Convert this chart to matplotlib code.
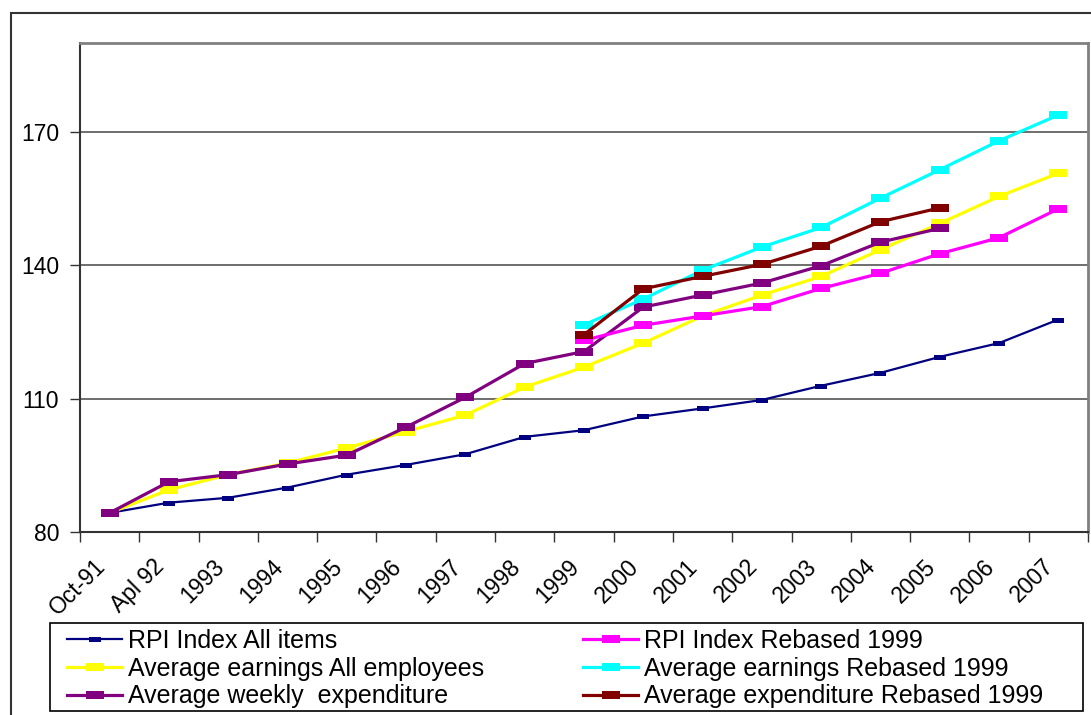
import numpy as np
import matplotlib
matplotlib.use("Agg")
import matplotlib.pyplot as plt
import matplotlib.transforms as mtrans
from matplotlib.patches import Rectangle

plt.rcParams['font.family'] = ['Liberation Sans', 'DejaVu Sans']

nan = np.nan

periods = ['Oct-91', 'Apl 92', '1993', '1994', '1995', '1996', '1997', '1998',
           '1999', '2000', '2001', '2002', '2003', '2004', '2005', '2006', '2007']

rpi_all = [84.3, 86.6, 87.7, 90.0, 92.9, 95.1, 97.5, 101.4, 102.9, 106.0,
           107.8, 109.7, 112.9, 115.8, 119.4, 122.5, 127.8]
rpi_rebased = [nan] * 8 + [123.1, 126.5, 128.6, 130.7, 134.8, 138.2, 142.6,
                           146.2, 152.7]
earn_all = [84.3, 89.5, 92.9, 95.5, 98.9, 102.6, 106.3, 112.6, 117.1, 122.5,
            128.6, 133.3, 137.5, 143.5, 149.4, 155.5, 160.7]
earn_rebased = [nan] * 8 + [126.6, 132.4, 138.9, 144.1, 148.5, 155.1, 161.5,
                            168.0, 173.8]
spend_weekly = [84.3, 91.3, 92.9, 95.3, 97.3, 103.6, 110.3, 117.9, 120.6,
                130.6, 133.3, 136.0, 139.9, 145.2, 148.3, nan, nan]
spend_rebased = [nan] * 8 + [124.4, 134.7, 137.5, 140.2, 144.3, 149.8, 152.9,
                             nan, nan]

# label, values, colour, line width, marker size
left_col = [
    ('RPI Index All items', rpi_all, '#000080', 1.6, 9),
    ('Average earnings All employees', earn_all, '#FFFF00', 2.3, 13),
    ('Average weekly  expenditure', spend_weekly, '#800080', 2.3, 13),
]
right_col = [
    ('RPI Index Rebased 1999', rpi_rebased, '#FF00FF', 2.3, 13),
    ('Average earnings Rebased 1999', earn_rebased, '#00FFFF', 2.3, 13),
    ('Average expenditure Rebased 1999', spend_rebased, '#800000', 2.3, 13),
]

# flat rectangular marker like the old spreadsheet charts
rect = [(-1, -0.4), (1, -0.4), (1, 0.4), (-1, 0.4), (-1, -0.4)]

fig = plt.figure(figsize=(10.91, 7.15), dpi=100)
W, H = 1091, 715

# outer chart border (runs off the right/bottom edge)
fig.patches.append(Rectangle((11 / W, -0.05), 1.2, 1 - 13 / H + 0.05,
                             transform=fig.transFigure, fill=False,
                             edgecolor='#333333', linewidth=1.5))

ax = fig.add_axes([80 / W, 1 - 532 / H, (1088 - 80) / W, (532 - 43) / H])

x = np.arange(len(periods))
hl, hr = [], []
for group, store in ((left_col, hl), (right_col, hr)):
    for label, vals, col, lw, ms in group:
        h, = ax.plot(x, vals, color=col, lw=lw, marker=rect, markersize=ms,
                     markeredgewidth=0, label=label)
        store.append(h)

ax.set_xlim(-0.5, len(periods) - 0.5)
ax.set_ylim(80, 190)
ax.set_yticks([80, 110, 140, 170])
ax.yaxis.grid(True, color='#555555', linewidth=1.2)
ax.set_axisbelow(True)

# ticks sit between categories, the labels are placed by hand below them
ax.set_xticks(np.arange(-0.5, len(periods)))
ax.set_xticklabels([])
lab_tr = mtrans.blended_transform_factory(ax.transData, ax.transAxes) + \
    mtrans.ScaledTranslation(-8 / 100, -31 / 100, fig.dpi_scale_trans)
for i, p in enumerate(periods):
    ax.text(i, 0, p, transform=lab_tr, rotation=45, ha='right', va='center',
            rotation_mode='anchor', fontsize=16.5, clip_on=False)

ax.tick_params(axis='x', direction='out', length=7, width=1,
               color='#333333')
ax.tick_params(axis='y', direction='out', length=7, width=1,
               color='#333333', labelsize=16.5, pad=8)

for side in ['top', 'right']:
    ax.spines[side].set_color('#808080')
    ax.spines[side].set_linewidth(2)
for side in ['left', 'bottom']:
    ax.spines[side].set_color('#333333')
    ax.spines[side].set_linewidth(1.5)

# legend box with two hand-placed columns
fig.patches.append(Rectangle((50 / W, 1 - 711 / H), (1083 - 50) / W,
                             (711 - 623) / H, transform=fig.transFigure,
                             fill=False, edgecolor='black', linewidth=1.2))
leg_kw = dict(loc='upper left', fontsize=18, frameon=False,
              handlelength=2.2, handletextpad=0.25, labelspacing=0.15,
              borderpad=0, borderaxespad=0)
for handles, x0 in ((hl, 67), (hr, 583)):
    fig.legend(handles, [h.get_label() for h in handles],
               bbox_to_anchor=(x0 / W, 1 - 629 / H), **leg_kw)

fig.savefig('out.png', dpi=100)
